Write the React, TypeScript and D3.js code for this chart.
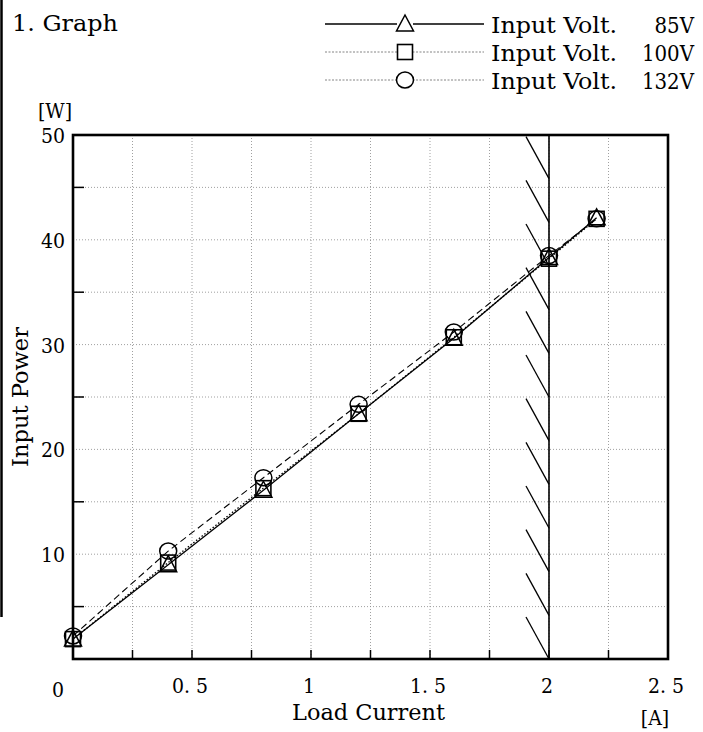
import React from "react";
import * as d3 from "d3";

const loadCurrent = [0, 0.4, 0.8, 1.2, 1.6, 2.0, 2.2];
const power85V = [1.9, 9.0, 16.1, 23.4, 30.6, 38.3, 42.1];
const power100V = [1.9, 9.2, 16.3, 23.4, 30.7, 38.2, 42.0];
const power132V = [2.2, 10.3, 17.3, 24.3, 31.2, 38.5, 42.0];
const seriesNames = ["Input Volt.", "Input Volt.", "Input Volt."];
const seriesVolts = ["85V", "100V", "132V"];
const xTickLabels = ["0. 5", "1", "1. 5", "2", "2. 5"];
const xTickValues = [0.5, 1, 1.5, 2, 2.5];
const yTickValues = [10, 20, 30, 40, 50];
const limitCurrent = 2.0;

const W = 703;
const H = 732;
const FONT = "'DejaVu Serif Condensed', 'DejaVu Serif', serif";

export default function App() {
  const x = d3.scaleLinear().domain([0, 2.5]).range([73, 668]);
  const y = d3.scaleLinear().domain([0, 50]).range([659, 135]);

  const gridX = d3.range(0.25, 2.5, 0.25);
  const gridY = d3.range(5, 50, 5);
  const minorY = [5, 15, 25, 35, 45];

  const series = [
    { vals: power85V, dash: undefined as string | undefined, marker: "tri", width: 1.3 },
    { vals: power100V, dash: "1.5,2", marker: "sq", width: 1.3 },
    { vals: power132V, dash: "7,4", marker: "circ", width: 1.1 },
  ];

  const line = (vals: number[]) =>
    d3
      .line<number>()
      .x((_, i) => x(loadCurrent[i]))
      .y((v) => y(v))(vals) || "";

  const marker = (kind: string, cx: number, cy: number, key: string) => {
    if (kind === "tri") {
      const p = d3.path();
      p.moveTo(cx, cy - 9);
      p.lineTo(cx + 8.5, cy + 7);
      p.lineTo(cx - 8.5, cy + 7);
      p.closePath();
      return <path key={key} d={p.toString()} fill="none" stroke="#000" strokeWidth={1.5} />;
    }
    if (kind === "sq") {
      return (
        <rect key={key} x={cx - 7.5} y={cy - 7.5} width={15} height={15} fill="none" stroke="#000" strokeWidth={1.6} />
      );
    }
    return <ellipse key={key} cx={cx} cy={cy} rx={8.5} ry={8} fill="none" stroke="#000" strokeWidth={1.5} />;
  };

  const x2 = x(limitCurrent);
  const hatchCount = 12;
  const hatchStep = (y(0) - y(50)) / hatchCount;
  const hatches = d3.range(hatchCount).map((i) => {
    const yEnd = y(0) - i * hatchStep;
    return { x1: x2 - 23, y1: yEnd - 42, x2: x2, y2: yEnd };
  });

  const legendRows = [24, 52, 80];

  return (
    <svg
      width={W}
      height={H}
      viewBox={`0 0 ${W} ${H}`}
      style={{ position: "absolute", left: 0, top: 0, background: "#fff" }}
      fontFamily={FONT}
    >
      <rect x={0} y={0} width={W} height={H} fill="#fff" />
      {/* left page edge */}
      <line x1={1.5} y1={0} x2={1.5} y2={617} stroke="#000" strokeWidth={2.5} />

      {/* title */}
      <text x={12} y={31} fontSize={22} textLength={106} lengthAdjust="spacingAndGlyphs">
        1. Graph
      </text>

      {/* legend */}
      {legendRows.map((ly, i) => (
        <g key={"lg" + i}>
          <line
            x1={325}
            x2={484}
            y1={ly}
            y2={ly}
            stroke={i === 0 ? "#000" : "#777"}
            strokeWidth={i === 0 ? 1.3 : 0.9}
            strokeDasharray={i === 0 ? undefined : "2,1.5"}
          />
          <rect x={397} y={ly - 9} width={16} height={18} fill="#fff" />
          {marker(series[i].marker, 405, ly, "lm" + i)}
          <text x={491} y={ly + 9} fontSize={22} textLength={126} lengthAdjust="spacingAndGlyphs">
            {seriesNames[i]}
          </text>
          <text x={694} y={ly + 9} fontSize={22} textAnchor="end">
            {seriesVolts[i]}
          </text>
        </g>
      ))}

      {/* grid */}
      {gridX.map((v) => (
        <line key={"gx" + v} x1={x(v)} x2={x(v)} y1={y(50)} y2={y(0)} stroke="#888" strokeWidth={0.8} strokeDasharray="1,2" />
      ))}
      {gridY.map((v) => (
        <line key={"gy" + v} x1={x(0)} x2={x(2.5)} y1={y(v)} y2={y(v)} stroke="#888" strokeWidth={0.8} strokeDasharray="1,2" />
      ))}

      {/* ticks */}
      {gridX.map((v) => (
        <line key={"tx" + v} x1={x(v)} x2={x(v)} y1={y(0)} y2={y(0) - 9} stroke="#000" strokeWidth={1.5} />
      ))}
      {minorY.map((v) => (
        <line key={"ty" + v} x1={x(0)} x2={x(0) + 11} y1={y(v)} y2={y(v)} stroke="#000" strokeWidth={1.5} />
      ))}

      {/* limit line with hatching */}
      <line x1={x2} x2={x2} y1={y(50)} y2={y(0)} stroke="#000" strokeWidth={1.6} />
      {hatches.map((h, i) => (
        <line key={"h" + i} x1={h.x1} y1={h.y1} x2={h.x2} y2={h.y2} stroke="#000" strokeWidth={1.3} />
      ))}

      {/* frame */}
      <rect x={x(0)} y={y(50)} width={x(2.5) - x(0)} height={y(0) - y(50)} fill="none" stroke="#000" strokeWidth={2.6} />

      {/* series */}
      {series.map((s, i) => (
        <path key={"s" + i} d={line(s.vals)} fill="none" stroke="#000" strokeWidth={s.width} strokeDasharray={s.dash} />
      ))}
      {series.map((s, i) =>
        s.vals.map((v, j) => marker(s.marker, x(loadCurrent[j]), y(v), `m${i}-${j}`))
      )}

      {/* axis labels */}
      {yTickValues.map((v) => (
        <text key={"yl" + v} x={65} y={y(v) + 8} fontSize={21} textAnchor="end">
          {v}
        </text>
      ))}
      <text x={58} y={697} fontSize={21} textAnchor="middle">
        0
      </text>
      {xTickValues.map((v, i) => (
        <text key={"xl" + v} x={x(v) - 2} y={693} fontSize={21} textAnchor="middle">
          {xTickLabels[i]}
        </text>
      ))}
      <text x={55} y={118} fontSize={21} textAnchor="middle">
        [W]
      </text>
      <text x={655} y={725} fontSize={21} textAnchor="middle">
        [A]
      </text>
      <text x={292} y={720} fontSize={22} textLength={153} lengthAdjust="spacingAndGlyphs">
        Load Current
      </text>
      <text
        transform={`translate(28, 397) rotate(-90)`}
        fontSize={22}
        textAnchor="middle"
        textLength={140}
        lengthAdjust="spacingAndGlyphs"
      >
        Input Power
      </text>
    </svg>
  );
}
